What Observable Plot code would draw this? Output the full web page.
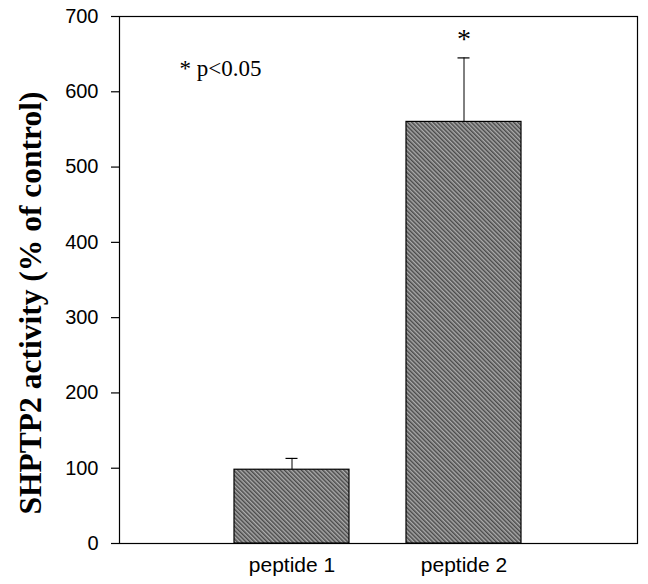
<!DOCTYPE html>
<html>
<head>
<meta charset="utf-8">
<script src="https://cdn.jsdelivr.net/npm/d3@7"></script>
<script src="https://cdn.jsdelivr.net/npm/@observablehq/plot@0.6"></script>
<style>
  html, body { margin: 0; padding: 0; background: white; }
</style>
</head>
<body>
<div id="chart"></div>
<script>
const categories = ["peptide 1", "peptide 2"];
const values = [98, 560];
const errors = [15, 85];
const significant = [false, true];
const yTicks = [0, 100, 200, 300, 400, 500, 600, 700];
const yLabel = "SHPTP2 activity (% of control)";
const note = "* p<0.05";

const data = categories.map((c, i) => ({
  name: c, value: values[i], err: errors[i], top: values[i] + errors[i], sig: significant[i]
}));

const serif = "'Liberation Serif', 'Times New Roman', serif";
const sans = "'Liberation Sans', Arial, sans-serif";

const chart = Plot.plot({
  width: 648,
  height: 584,
  marginLeft: 119,
  marginRight: 11,
  marginTop: 16,
  marginBottom: 41,
  style: { fontFamily: sans, background: "white", color: "black" },
  x: { type: "band", domain: categories, paddingInner: 0.33, paddingOuter: 0.665, label: null },
  y: { domain: [0, 700], label: null },
  marks: [
    Plot.frame({ stroke: "black", strokeWidth: 1.2 }),
    Plot.axisY({ ticks: yTicks, tickSize: 8, tickPadding: 13, fontSize: 20, label: null, stroke: "black", strokeWidth: 1.2 }),
    Plot.axisX({ tickSize: 0, tickPadding: 14, fontSize: 21, label: null }),
    Plot.ruleX(data, { x: "name", y1: "value", y2: "top", stroke: "black", strokeWidth: 1 }),
    Plot.tickY(data, { x: "name", y: "top", stroke: "black", strokeWidth: 1.2, insetLeft: 51.5, insetRight: 51.5 }),
    Plot.barY(data, { x: "name", y: "value", fill: "url(#hatch)", stroke: "black", strokeWidth: 1.2 }),
    Plot.text(data.filter(d => d.sig), { x: "name", y: "top", text: () => "*", fontFamily: serif, fontSize: 28, dy: -19, lineAnchor: "middle" }),
    Plot.text([note], { frameAnchor: "top-left", textAnchor: "start", lineAnchor: "middle", dx: 60, dy: 52, fontFamily: serif, fontSize: 23 }),
    Plot.text([yLabel], { frameAnchor: "left", rotate: -90, textAnchor: "middle", lineAnchor: "middle", dx: -89, dy: 23, fontFamily: serif, fontWeight: "bold", fontSize: 31.5 })
  ]
});

const svg = d3.select(chart);
const defs = svg.insert("defs", ":first-child");
const pat = defs.append("pattern")
  .attr("id", "hatch")
  .attr("width", 3).attr("height", 3)
  .attr("patternUnits", "userSpaceOnUse")
  .attr("patternTransform", "rotate(-45)");
pat.append("rect").attr("width", 3).attr("height", 3).attr("fill", "#ababab");
pat.append("rect").attr("width", 1.5).attr("height", 3).attr("fill", "#4a4a4a");

document.getElementById("chart").appendChild(chart);
</script>
</body>
</html>
